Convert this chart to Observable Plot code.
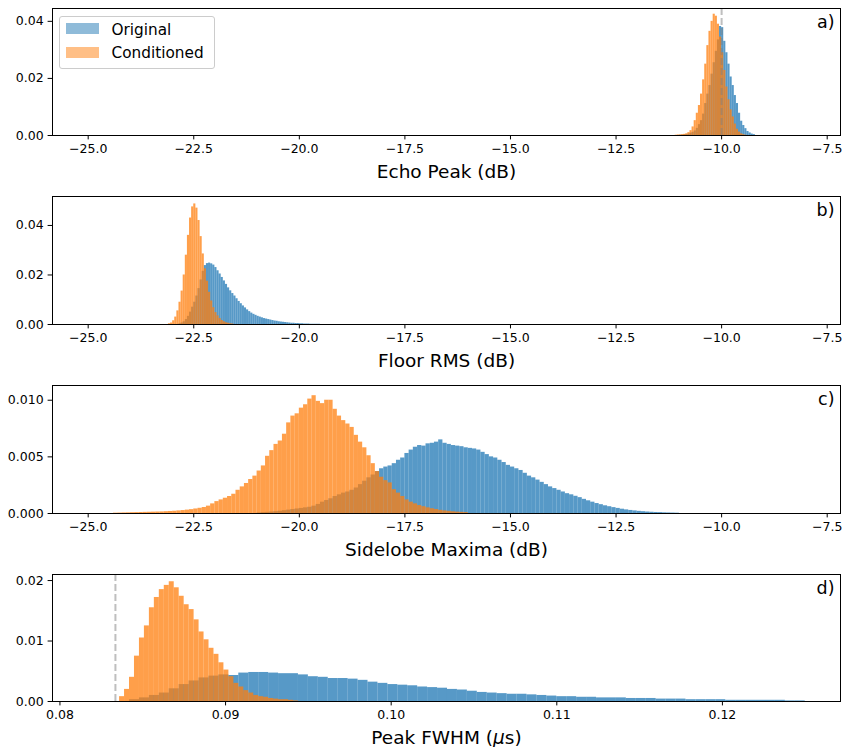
<!DOCTYPE html>
<html>
<head>
<meta charset="utf-8">
<script src="https://cdn.jsdelivr.net/npm/d3@7"></script>
<script src="https://cdn.jsdelivr.net/npm/@observablehq/plot@0.6"></script>
<style>
  body { margin: 0; background: #fff; }
  #wrap { position: relative; width: 844px; height: 747px; font-family: "DejaVu Sans", sans-serif; }
  #wrap svg { display: block; }
  .legend { position: absolute; left: 59px; top: 15.5px; width: 155.5px; height: 53px; box-sizing: border-box;
            border: 1px solid #cccccc; border-radius: 3px; background: rgba(255,255,255,0.8); font-size: 15.3px; color: #000; }
  .legend .patch { position: absolute; left: 6px; width: 33px; height: 11.7px; }
  .legend .lab { position: absolute; left: 51.5px; line-height: 18px; white-space: nowrap; }
</style>
</head>
<body>
<div id="wrap"></div>
<script>
// ---------------- data ----------------
const seriesNames = ["Original", "Conditioned"];

// Panel a) Echo Peak (dB), bin width 0.05 dB
const echoOrigStart = -11.0, echoBinWidth = 0.05;
const echoOrig = [0.0001,0.0001,0.0002,0.0003,0.0005,0.0008,0.0011,0.0016,0.0025,0.0038,
  0.0052,0.0075,0.0112,0.0145,0.0175,0.0215,0.0255,0.0295,0.0335,0.0382,
  0.0378,0.0330,0.0290,0.0250,0.0205,0.0175,0.0140,0.0112,0.0078,0.0050,
  0.0035,0.0024,0.0014,0.0009,0.0005,0.0003];
const echoCondStart = -11.1;
const echoCond = [0.0001,0.0002,0.0002,0.0003,0.0004,0.0006,0.0010,0.0017,0.0030,0.0052,
  0.0078,0.0105,0.0145,0.0195,0.0250,0.0315,0.0365,0.0400,0.0425,0.0418,
  0.0390,0.0345,0.0290,0.0228,0.0170,0.0125,0.0090,0.0065,0.0040,0.0022,
  0.0012,0.0006,0.0003,0.0001];
const echoRefLine = [-10];

// Panel b) Floor RMS (dB), bin width 0.05 dB
const floorOrigStart = -22.85, floorBinWidth = 0.05;
const floorOrig = [0.0003,0.0006,0.0011,0.0020,0.0033,0.0050,0.0070,0.0090,0.0115,0.0145,
  0.0180,0.0215,0.0238,0.0246,0.0248,0.0245,0.0240,0.0230,0.0217,0.0204,
  0.0190,0.0176,0.0162,0.0148,0.0136,0.0125,0.0115,0.0104,0.0093,0.0084,
  0.0075,0.0067,0.0059,0.0052,0.0046,0.0041,0.0037,0.0033,0.0030,0.0027,
  0.0024,0.0022,0.0020,0.0018,0.0016,0.0014,0.0013,0.0011,0.0010,0.0009,
  0.0008,0.0007,0.0006,0.0005,0.0005,0.0004,0.0004,0.0003,0.0003,0.0002,
  0.0002,0.0002,0.0001,0.0001,0.0001,0.0001,0.0001];
const floorCondStart = -23.1;
const floorCond = [0.0003,0.0006,0.0015,0.0030,0.0055,0.0090,0.0135,0.0200,0.0280,0.0360,
  0.0430,0.0475,0.0487,0.0470,0.0420,0.0355,0.0285,0.0225,0.0175,0.0130,
  0.0095,0.0068,0.0048,0.0035,0.0024,0.0016,0.0011,0.0007,0.0005,0.0003,
  0.0002];

// Panel c) Sidelobe Maxima (dB), bin width 0.1 dB
const sideOrigStart = -21.0, sideBinWidth = 0.1;
const sideOrig = [0.00005,0.00008,0.0001,0.00013,0.00016,0.0002,0.00025,0.0003,0.00035,0.0004,
  0.00045,0.0005,0.00055,0.00065,0.0008,0.001,0.00115,0.0013,0.0015,0.00165,
  0.0018,0.0019,0.00205,0.00225,0.00255,0.00285,0.00315,0.0034,0.0037,0.00395,
  0.0041,0.0042,0.0044,0.0047,0.0049,0.0053,0.0056,0.00585,0.006,0.00595,
  0.00615,0.0062,0.0063,0.0065,0.0062,0.0061,0.006,0.00595,0.0059,0.0058,
  0.00575,0.0057,0.0056,0.0054,0.0052,0.005,0.0049,0.0047,0.0045,0.00425,
  0.0041,0.00395,0.0038,0.00355,0.0033,0.00315,0.00295,0.00275,0.00255,0.00235,
  0.0022,0.00205,0.0019,0.00175,0.00165,0.00152,0.0014,0.00125,0.00112,0.001,
  0.00088,0.00078,0.00068,0.0006,0.00052,0.00045,0.00038,0.00032,0.00027,0.00023,
  0.00019,0.00016,0.00013,0.00011,0.00009,0.00008,0.00006,0.00005,0.00004,0.00003];
const sideCondStart = -24.4;
const sideCond = [0.00003,0.00004,0.00005,0.00006,0.00007,0.00008,0.00009,0.0001,0.00011,0.00012,
  0.00013,0.00014,0.00016,0.00018,0.0002,0.00023,0.00026,0.0003,0.00034,0.0004,
  0.00046,0.00053,0.00065,0.00085,0.00105,0.0012,0.00135,0.0015,0.0017,0.00205,
  0.00235,0.00265,0.003,0.0033,0.00375,0.0042,0.00505,0.00555,0.0061,0.0064,
  0.007,0.008,0.0086,0.0088,0.0093,0.0096,0.0101,0.0104,0.0099,0.0097,
  0.01,0.01,0.0092,0.0086,0.0082,0.0079,0.0076,0.0069,0.0063,0.0058,
  0.0051,0.0044,0.0037,0.0032,0.0029,0.0027,0.0021,0.0018,0.0015,0.0012,
  0.001,0.00085,0.0007,0.0006,0.0005,0.00042,0.00035,0.00028,0.00023,0.00019,
  0.00015,0.00012,0.0001,0.00008];

// Panel d) Peak FWHM (µs)
const fwhmOrigStart = 0.0842, fwhmOrigWidth = 0.0006;
const fwhmOrig = [0.0003,0.0006,0.0010,0.0014,0.0021,0.0028,0.0034,0.0039,0.0042,0.0044,
  0.0043,0.0047,0.0048,0.0048,0.0047,0.0046,0.0046,0.0044,0.0041,0.0040,
  0.0038,0.0038,0.0037,0.0035,0.0032,0.0030,0.0028,0.0027,0.0026,0.0024,
  0.0023,0.0022,0.0020,0.0019,0.0017,0.0015,0.0014,0.0013,0.0012,0.0012,
  0.0011,0.0010,0.0009,0.0008,0.0008,0.0007,0.0007,0.0006,0.0006,0.0006,
  0.0005,0.0005,0.0005,0.0004,0.0004,0.0004,0.0003,0.0003,0.0003,0.0003,
  0.0002,0.0002,0.0002,0.0002,0.0002,0.0002,0.0001,0.0001];
const fwhmCondStart = 0.0836, fwhmCondWidth = 0.0003;
const fwhmCond = [0.0008,0.0020,0.0040,0.0075,0.0105,0.0125,0.0155,0.0172,0.0185,0.0192,
  0.0198,0.0188,0.0174,0.0160,0.0152,0.0135,0.0115,0.0102,0.0088,0.0078,
  0.0064,0.0052,0.0041,0.0030,0.0024,0.0018,0.0014,0.0010,0.0008,0.0007,
  0.0005,0.0004,0.0003,0.0003,0.0002,0.0001];
const fwhmRefLine = [0.08335];

// ticks and labels
const dbTicks = [-25, -22.5, -20, -17.5, -15, -12.5, -10, -7.5];
const fwhmTicks = [0.08, 0.09, 0.10, 0.11, 0.12];
const echoYTicks = [0, 0.02, 0.04];
const floorYTicks = [0, 0.02, 0.04];
const sideYTicks = [0, 0.005, 0.010];
const fwhmYTicks = [0, 0.01, 0.02];
const xLabels = ["Echo Peak (dB)", "Floor RMS (dB)", "Sidelobe Maxima (dB)", "Peak FWHM (μs)"];
const panelLetters = ["a)", "b)", "c)", "d)"];

// ---------------- drawing ----------------
const BLUE = "#1f77b4", ORANGE = "#ff7f0e";
function bins(start, width, heights) {
  return heights.map((h, i) => ({x1: start + i * width, x2: start + (i + 1) * width, h}));
}

function panel(o) {
  const marks = [
    Plot.rectY(o.orig, {x1: "x1", x2: "x2", y: "h", fill: BLUE, fillOpacity: 0.75, inset: 0}),
    Plot.rectY(o.cond, {x1: "x1", x2: "x2", y: "h", fill: ORANGE, fillOpacity: 0.75, inset: 0})
  ];
  if (o.rule) marks.push(Plot.ruleX(o.rule, {stroke: "#808080", strokeOpacity: 0.5, strokeWidth: 2, strokeDasharray: "7,3"}));
  marks.push(
    Plot.frame({stroke: "black", strokeWidth: 1}),
    Plot.axisX(o.xTicks, {tickFormat: d3.format(o.xFmt), tickSize: 4.4, tickPadding: 4, label: null, fontSize: 12.5}),
    Plot.axisY(o.yTicks, {tickFormat: d3.format(o.yFmt), tickSize: 4.4, tickPadding: 4.5, label: null, fontSize: 12.5}),
    Plot.text([o.label], {text: d => d, frameAnchor: "bottom", lineAnchor: "bottom", dy: 42, fontSize: 18.5}),
    Plot.text([o.letter], {text: d => d, frameAnchor: "top-right", textAnchor: "end", lineAnchor: "top", dx: -6, dy: 7, fontSize: 17.5})
  );
  return Plot.plot({
    width: 844, height: o.height,
    marginLeft: 52, marginRight: 4, marginTop: o.mt, marginBottom: o.mb,
    x: {domain: o.xDomain}, y: {domain: o.yDomain},
    style: {fontFamily: "DejaVu Sans", fontSize: "12.5px", color: "black", background: "white", overflow: "visible"},
    marks
  });
}

const wrap = document.getElementById("wrap");
const panels = [
  {orig: bins(echoOrigStart, echoBinWidth, echoOrig), cond: bins(echoCondStart, echoBinWidth, echoCond),
   rule: echoRefLine, xDomain: [-25.845, -7.185], yDomain: [0, 0.0445], xTicks: dbTicks, xFmt: ".1f",
   yTicks: echoYTicks, yFmt: ".2f", label: xLabels[0], letter: panelLetters[0], height: 189, mt: 8, mb: 54},
  {orig: bins(floorOrigStart, floorBinWidth, floorOrig), cond: bins(floorCondStart, floorBinWidth, floorCond),
   xDomain: [-25.845, -7.185], yDomain: [0, 0.0517], xTicks: dbTicks, xFmt: ".1f",
   yTicks: floorYTicks, yFmt: ".2f", label: xLabels[1], letter: panelLetters[1], height: 189, mt: 7, mb: 54},
  {orig: bins(sideOrigStart, sideBinWidth, sideOrig), cond: bins(sideCondStart, sideBinWidth, sideCond),
   xDomain: [-25.845, -7.185], yDomain: [0, 0.0113], xTicks: dbTicks, xFmt: ".1f",
   yTicks: sideYTicks, yFmt: ".3f", label: xLabels[2], letter: panelLetters[2], height: 188, mt: 7, mb: 53},
  {orig: bins(fwhmOrigStart, fwhmOrigWidth, fwhmOrig), cond: bins(fwhmCondStart, fwhmCondWidth, fwhmCond),
   rule: fwhmRefLine, xDomain: [0.07955, 0.12713], yDomain: [0, 0.0210], xTicks: fwhmTicks, xFmt: ".2f",
   yTicks: fwhmYTicks, yFmt: ".2f", label: xLabels[3], letter: panelLetters[3], height: 181, mt: 8, mb: 46}
];
for (const p of panels) wrap.appendChild(panel(p));

// italic µ as in matplotlib mathtext
d3.select(wrap).selectAll("text").each(function() {
  if (this.textContent === xLabels[3]) {
    const t = d3.select(this);
    t.text(null);
    t.append("tspan").text("Peak FWHM (");
    t.append("tspan").attr("font-style", "italic").text("μ");
    t.append("tspan").text("s)");
  }
});

// legend (inside panel a)
const legend = document.createElement("div");
legend.className = "legend";
const legendColors = ["rgba(31,119,180,0.5)", "rgba(255,127,14,0.5)"];
seriesNames.forEach((name, i) => {
  const p = document.createElement("div");
  p.className = "patch";
  p.style.top = (6 + i * 24.3) + "px";
  p.style.background = legendColors[i];
  legend.appendChild(p);
  const l = document.createElement("div");
  l.className = "lab";
  l.style.top = (4.3 + i * 23.4) + "px";
  l.textContent = name;
  legend.appendChild(l);
});
wrap.appendChild(legend);
</script>
</body>
</html>
